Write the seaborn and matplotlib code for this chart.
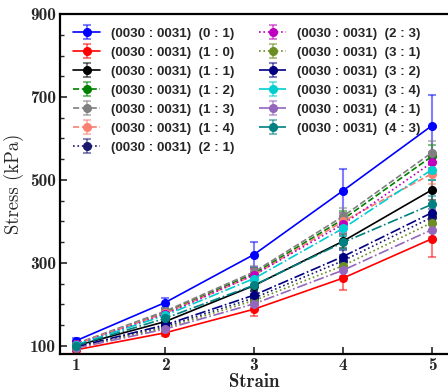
"""Stress vs strain for the (0030 : 0031) ratio series."""

import numpy as np
import matplotlib
matplotlib.use("Agg")
import matplotlib.pyplot as plt
from matplotlib.ticker import MultipleLocator
import seaborn as sns

strain = [1, 2, 3, 4, 5]

labels = ["(0030 : 0031)  (0 : 1)", "(0030 : 0031)  (1 : 0)", "(0030 : 0031)  (1 : 1)",
          "(0030 : 0031)  (1 : 2)", "(0030 : 0031)  (1 : 3)", "(0030 : 0031)  (1 : 4)",
          "(0030 : 0031)  (2 : 1)", "(0030 : 0031)  (2 : 3)", "(0030 : 0031)  (3 : 1)",
          "(0030 : 0031)  (3 : 2)", "(0030 : 0031)  (3 : 4)", "(0030 : 0031)  (4 : 1)",
          "(0030 : 0031)  (4 : 3)"]

stress = [
    [112, 204, 320, 474, 631],   # 0:1
    [90, 131, 188, 263, 358],    # 1:0
    [100, 158, 245, 352, 476],   # 1:1
    [104, 180, 274, 405, 557],   # 1:2
    [105, 183, 278, 412, 566],   # 1:3
    [104, 178, 270, 400, 515],   # 1:4
    [96, 146, 215, 305, 410],    # 2:1
    [103, 176, 271, 393, 542],   # 2:3
    [95, 143, 209, 293, 397],    # 3:1
    [97, 150, 222, 315, 421],    # 3:2
    [102, 173, 262, 383, 525],   # 3:4
    [94, 140, 201, 282, 380],    # 4:1
    [100, 166, 246, 349, 441],   # 4:3
]

errors = [
    [6, 12, 30, 53, 73],
    [4, 7, 17, 29, 43],
    [4, 7, 12, 17, 24],
    [5, 9, 14, 20, 28],
    [5, 9, 14, 21, 29],
    [5, 9, 14, 20, 26],
    [4, 7, 10, 14, 19],
    [5, 8, 13, 19, 26],
    [4, 7, 10, 14, 19],
    [4, 7, 11, 15, 20],
    [5, 8, 12, 18, 25],
    [4, 7, 10, 13, 18],
    [4, 8, 12, 16, 21],
]

colors = ["blue", "red", "black", "green", "gray", "salmon", "midnightblue",
          "m", "olivedrab", "navy", "darkturquoise", "tab:purple", "teal"]
styles = ["-", "-", "-", "--", "--", "--", ":", ":", ":", "-.", "-.", "-.", "-."]

sns.set_style("ticks")

fig = plt.figure(figsize=(4.48, 3.92), dpi=100)
ax = fig.add_axes([0.134, 0.097, 0.866, 0.867])

for lab, vals, err, col, ls in zip(labels, stress, errors, colors, styles):
    ax.errorbar(strain, vals, yerr=err, color=col, linestyle=ls, linewidth=1.2,
                marker="o", markersize=5.5, ecolor=matplotlib.colors.to_rgba(col, 0.5),
                elinewidth=1.5, capsize=3, capthick=1.5, label=lab)

ax.set_xlim(0.82, 5.18)
ax.set_ylim(80, 900)
ax.set_xticks(strain)
ax.set_yticks([100, 300, 500, 700, 900])
ax.yaxis.set_minor_locator(MultipleLocator(50))

ax.tick_params(axis="both", which="both", direction="in", top=False, right=False)
ax.tick_params(axis="both", which="major", length=5, width=1.2)
ax.tick_params(axis="y", which="minor", length=3, width=1.0)
ax.tick_params(axis="both", labelsize=12.5, pad=3)
for lbl in ax.get_xticklabels() + ax.get_yticklabels():
    lbl.set_fontfamily("cmb10")

for side in ["left", "bottom", "top"]:
    ax.spines[side].set_linewidth(1.6)
    ax.spines[side].set_color("black")
ax.spines["right"].set_visible(False)

ax.set_xlabel("Strain", fontfamily="cmb10", fontsize=13.5, labelpad=0)
ax.set_ylabel("Stress (kPa)", fontfamily="cmr10", fontsize=13.5, labelpad=4)

ax.legend(loc="upper left", ncol=2, frameon=False, handlelength=2.0,
          columnspacing=1.9, labelspacing=0.5, handletextpad=0.8,
          borderaxespad=0.7, borderpad=0.3,
          prop={"family": "Liberation Sans", "weight": "bold", "size": 9.6})

fig.savefig("out.png", dpi=100)
